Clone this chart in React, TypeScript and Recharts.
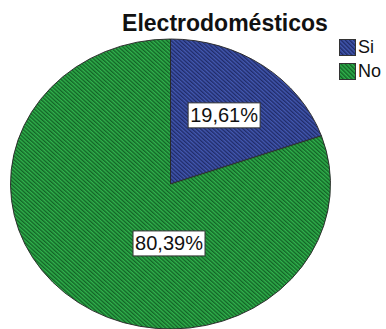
import { PieChart, Pie, Cell, Sector } from "recharts";

const categories = ["Si", "No"];
const percents = [19.61, 80.39];
const colors = ["url(#hatchBlue)", "url(#hatchGreen)"];
const swatch = ["#3a4c9c", "#2a9a42"];

const data = categories.map((name, i) => ({ name, value: percents[i] }));

const CX = 170.5;
const CY = 184;
const R = 160;
const SQUASH = 145 / 160; // the original pie is a slightly flattened ellipse

// label placement inside each slice (fraction of radius, angle tweak in deg)
const labelPlace = [
  { f: 0.58, dTheta: 0 },
  { f: 0.41, dTheta: -34 },
];

function EllipseSector(props: any) {
  const t = `translate(${props.cx} ${props.cy}) scale(1 ${SQUASH}) translate(${-props.cx} ${-props.cy})`;
  return (
    <g transform={t}>
      <Sector {...props} />
    </g>
  );
}

function SliceLabel(props: any) {
  const { cx, cy, midAngle, outerRadius, index, value } = props;
  const p = labelPlace[index] ?? { f: 0.5, dTheta: 0 };
  const theta = ((90 - midAngle + p.dTheta) * Math.PI) / 180;
  const x = cx + p.f * outerRadius * Math.sin(theta);
  const y = cy - p.f * outerRadius * SQUASH * Math.cos(theta);
  const txt = value.toFixed(2).replace(".", ",") + "%";
  const w = 72;
  const h = 25;
  return (
    <g>
      <rect x={x - w / 2} y={y - h / 2} width={w} height={h} fill="#fff" stroke="#333" strokeWidth={1} />
      <text
        x={x}
        y={y + 7}
        textAnchor="middle"
        fontFamily="Liberation Sans, Arial, sans-serif"
        fontSize={20}
        fill="#111"
      >
        {txt}
      </text>
    </g>
  );
}

export default function App() {
  return (
    <div style={{ position: "absolute", left: 0, top: 0, width: 386, height: 329, background: "#fff", overflow: "hidden" }}>
      <svg width={0} height={0} style={{ position: "absolute" }}>
        <defs>
          <pattern id="hatchBlue" patternUnits="userSpaceOnUse" width={3} height={3} patternTransform="rotate(-45)">
            <rect width={3} height={3} fill="#4258b0" />
            <line x1={0.75} y1={0} x2={0.75} y2={3} stroke="#1c2660" strokeWidth={1.3} />
          </pattern>
          <pattern id="hatchGreen" patternUnits="userSpaceOnUse" width={3} height={3} patternTransform="rotate(-45)">
            <rect width={3} height={3} fill="#30b04c" />
            <line x1={0.75} y1={0} x2={0.75} y2={3} stroke="#0f5a22" strokeWidth={1.3} />
          </pattern>
        </defs>
      </svg>
      <div
        style={{
          position: "absolute",
          left: 0,
          top: 10,
          width: 450,
          textAlign: "center",
          fontFamily: "Liberation Sans, Arial, sans-serif",
          fontWeight: "bold",
          fontSize: 23,
          lineHeight: "27px",
          color: "#111",
        }}
      >
        Electrodomésticos
      </div>
      <PieChart
        width={386}
        height={329}
        margin={{ top: 0, right: 0, bottom: 0, left: 0 }}
        style={{ position: "absolute", left: 0, top: 0 }}
      >
        <Pie
          data={data}
          dataKey="value"
          nameKey="name"
          cx={CX}
          cy={CY}
          outerRadius={R}
          startAngle={90}
          endAngle={-270}
          stroke="#2a2a2a"
          strokeWidth={1}
          shape={EllipseSector}
          label={SliceLabel}
          labelLine={false}
          isAnimationActive={false}
        >
          {data.map((d, i) => (
            <Cell key={d.name} fill={colors[i]} />
          ))}
        </Pie>
      </PieChart>
      <div style={{ position: "absolute", left: 339, top: 39 }}>
        {data.map((d, i) => (
          <div key={d.name} style={{ display: "flex", alignItems: "center", height: 17, marginBottom: 7 }}>
            <div
              style={{
                width: 17,
                height: 17,
                boxSizing: "border-box",
                border: "1px solid #333",
                background: swatch[i],
              }}
            >
              <svg width={15} height={15} style={{ display: "block" }}>
                <rect width={15} height={15} fill={colors[i]} />
              </svg>
            </div>
            <span
              style={{
                marginLeft: 2,
                fontFamily: "Liberation Sans, Arial, sans-serif",
                fontSize: 18,
                lineHeight: "17px",
                color: "#111",
              }}
            >
              {d.name}
            </span>
          </div>
        ))}
      </div>
    </div>
  );
}
